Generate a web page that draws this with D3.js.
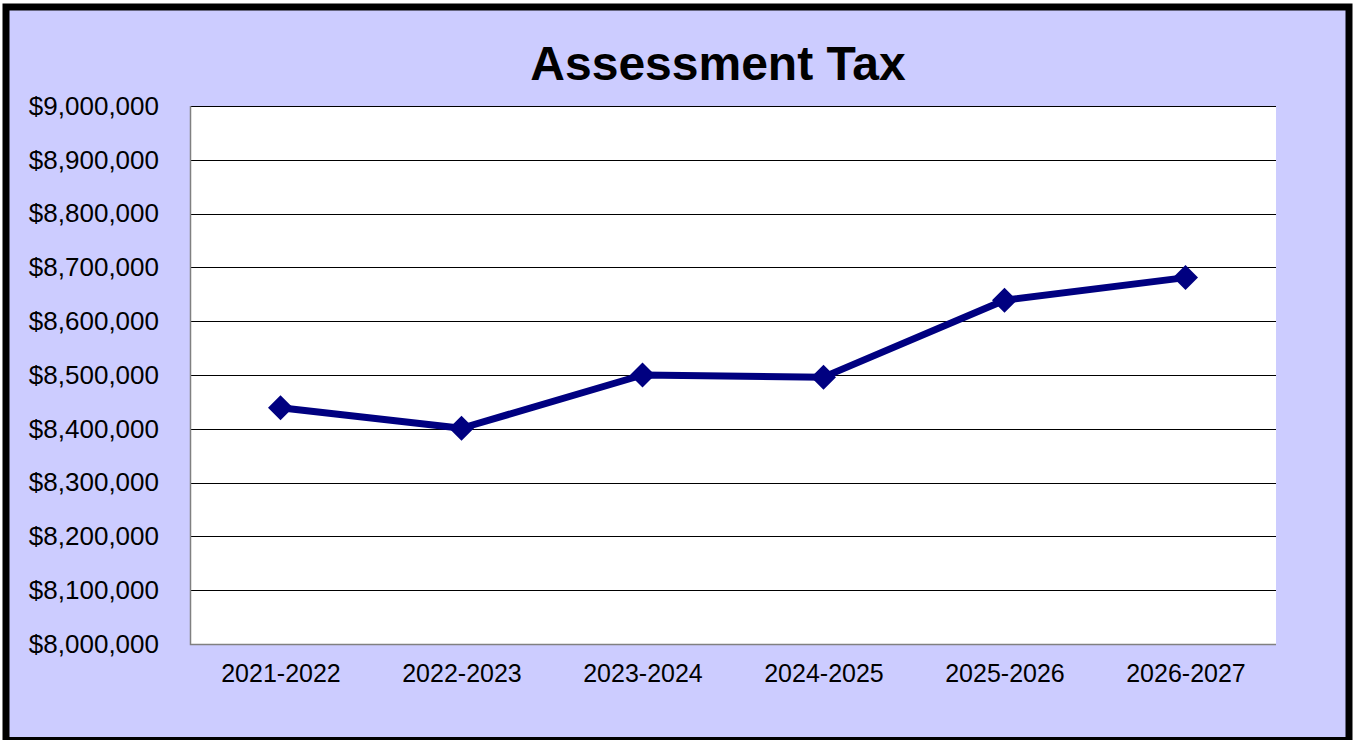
<!DOCTYPE html>
<html>
<head>
<meta charset="utf-8">
<script src="https://cdn.jsdelivr.net/npm/d3@7"></script>
<style>
  body { margin: 0; background: #fff; }
  svg { display: block; font-family: "Liberation Sans", Arial, sans-serif; }
</style>
</head>
<body>
<div id="chart"></div>
<script>
// data
var years = ["2021-2022", "2022-2023", "2023-2024", "2024-2025", "2025-2026", "2026-2027"];
var taxValues = [8439000, 8401000, 8500000, 8496000, 8639000, 8681000];
var yTicks = [8000000, 8100000, 8200000, 8300000, 8400000, 8500000, 8600000, 8700000, 8800000, 8900000, 9000000];

var W = 1355, H = 740;
var margin = { top: 106, right: 79, bottom: 96, left: 190 },
  width = W - margin.left - margin.right,
  height = H - margin.top - margin.bottom;

var svg = d3.select("#chart")
  .append("svg")
  .attr("width", W)
  .attr("height", H);

// outer frame
svg.append("rect")
  .attr("x", 6).attr("y", 7)
  .attr("width", 1343).attr("height", 733.5)
  .attr("fill", "#ccccff")
  .attr("stroke", "#000")
  .attr("stroke-width", 7);

svg.append("text")
  .attr("x", 718).attr("y", 80)
  .attr("text-anchor", "middle")
  .style("font-size", "48px")
  .style("font-weight", "bold")
  .text("Assessment Tax");

var g = svg.append("g")
  .attr("transform", `translate(${margin.left},${margin.top})`);

var x = d3.scalePoint().domain(years).range([0, width]).padding(0.5);
var y = d3.scaleLinear().domain([8000000, 9000000]).range([height, 0]);

g.append("rect")
  .attr("width", width).attr("height", height)
  .attr("fill", "#fff");

// gridlines
g.selectAll(".grid")
  .data(yTicks.filter(function (d) { return d > 8000000; }))
  .enter()
  .append("line")
  .attr("x1", 0).attr("x2", width)
  .attr("y1", function (d) { return Math.round(y(d)) + 0.5; })
  .attr("y2", function (d) { return Math.round(y(d)) + 0.5; })
  .attr("stroke", "#000")
  .attr("stroke-width", 1);

// left and bottom plot edges
g.append("path")
  .attr("d", `M0.5,0V${height + 0.5}H${width}`)
  .attr("fill", "none")
  .attr("stroke", "#808080")
  .attr("stroke-width", 1.5);

var yAxis = d3.axisLeft(y).tickValues(yTicks).tickSize(0).tickPadding(31)
  .tickFormat(function (d) { return "$" + d3.format(",")(d); });
var yg = g.append("g").call(yAxis);
yg.select(".domain").remove();
yg.selectAll("text").style("font-size", "26px").attr("fill", "#000")
  .style("font-family", "'Liberation Sans', Arial, sans-serif");

var xAxis = d3.axisBottom(x).tickSize(0).tickPadding(20);
var xg = g.append("g").attr("transform", `translate(0,${height})`).call(xAxis);
xg.select(".domain").remove();
xg.selectAll("text").style("font-size", "25px").attr("fill", "#000")
  .style("font-family", "'Liberation Sans', Arial, sans-serif");

var line = d3.line()
  .x(function (d, i) { return x(years[i]); })
  .y(function (d) { return y(d); });

g.append("path")
  .datum(taxValues)
  .attr("d", line)
  .attr("fill", "none")
  .attr("stroke", "#000080")
  .attr("stroke-width", 7)
  .attr("stroke-linejoin", "round");

g.selectAll(".marker")
  .data(taxValues)
  .enter()
  .append("path")
  .attr("d", "M0,-12.5L12.5,0L0,12.5L-12.5,0Z")
  .attr("transform", function (d, i) { return `translate(${x(years[i])},${y(d)})`; })
  .attr("fill", "#000080");
</script>
</body>
</html>
